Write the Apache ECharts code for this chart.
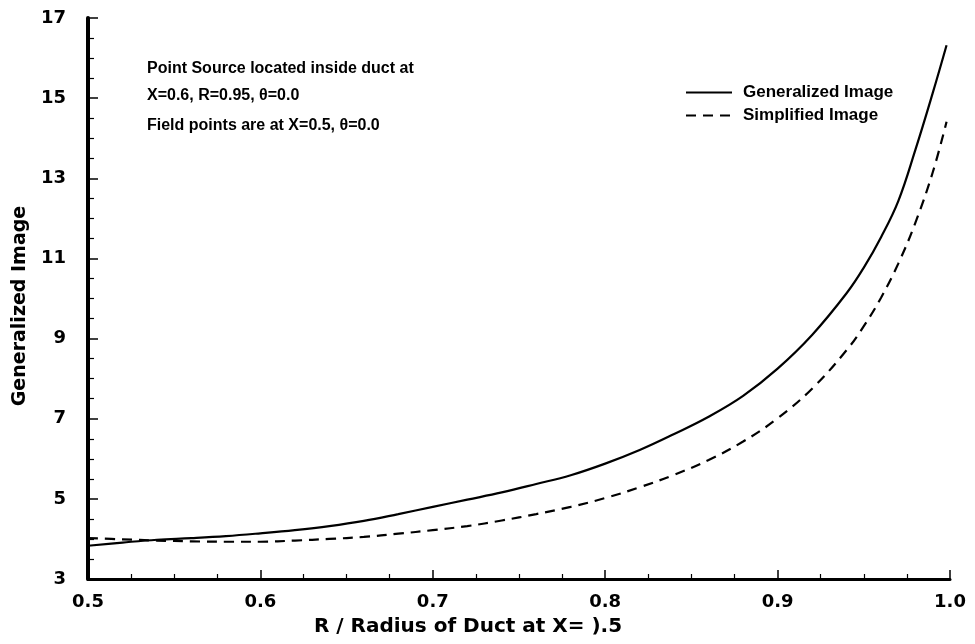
<!DOCTYPE html>
<html><head><meta charset="utf-8">
<script src="https://cdn.jsdelivr.net/npm/echarts@6/dist/echarts.min.js"></script>
<style>html,body{margin:0;padding:0;background:#fff}#c{width:975px;height:644px}</style>
</head><body><div id="c"></div>
<script>
const rValues = [0.50,0.52,0.54,0.56,0.58,0.60,0.62,0.64,0.66,0.68,0.70,0.72,0.74,0.76,0.78,0.80,0.82,0.84,0.86,0.88,0.90,0.92,0.94,0.95,0.96,0.97,0.98,0.99,0.998];
const generalizedImage = [3.83,3.91,3.98,4.02,4.07,4.14,4.22,4.32,4.45,4.62,4.80,4.98,5.16,5.37,5.59,5.88,6.22,6.62,7.05,7.57,8.25,9.09,10.13,10.77,11.53,12.43,13.72,15.13,16.32];
const simplifiedImage = [4.02,3.99,3.96,3.94,3.93,3.93,3.96,4.00,4.05,4.13,4.22,4.32,4.46,4.62,4.80,5.02,5.29,5.60,5.97,6.43,7.01,7.75,8.71,9.31,10.02,10.87,11.90,13.15,14.41];
const seriesNames = ['Generalized Image','Simplified Image'];
const xAxisTitle = 'R / Radius of Duct at X= ).5';
const yAxisTitle = 'Generalized Image';
const noteLines = ['Point Source located inside duct at','X=0.6, R=0.95, \u03b8=0.0','Field points are at X=0.5, \u03b8=0.0'];

const SANS = '"Liberation Sans", Arial, Helvetica, sans-serif';
const WIDE = '"DejaVu Sans", Verdana, sans-serif';
const chart = echarts.init(document.getElementById('c'), null, {renderer:'canvas'});
const pairs = arr => rValues.map((r,i)=>[r, arr[i]]);
chart.setOption({
  animation:false,
  backgroundColor:'#fff',
  grid:{left:88,right:25,top:18,bottom:65,outerBoundsMode:'none',containLabel:false},
  legend:{
    orient:'vertical', left:680, top:79, itemWidth:46, itemHeight:14, itemGap:6,
    data:seriesNames,
    itemStyle:{opacity:0},
    textStyle:{fontFamily:SANS,fontWeight:'bold',fontSize:17,color:'#000',padding:[0,0,0,6]}
  },
  xAxis:{
    type:'value', min:0.5, max:1.0, interval:0.1,
    name:xAxisTitle, nameLocation:'middle', nameGap:38,
    nameTextStyle:{fontFamily:WIDE,fontWeight:'bold',fontSize:20,color:'#000',padding:[0,102,0,0]},
    axisLine:{show:true,lineStyle:{color:'#000',width:3}},
    axisTick:{show:true,inside:true,length:9,lineStyle:{color:'#000',width:1.5}},
    minorTick:{show:true,splitNumber:4,length:5,lineStyle:{color:'#000',width:1.2}},
    splitLine:{show:false},
    axisLabel:{fontFamily:WIDE,fontWeight:'bold',fontSize:18,color:'#000',margin:14,
      formatter:v=>v.toFixed(1)}
  },
  yAxis:{
    type:'value', min:3, max:17, interval:2,
    name:yAxisTitle, nameLocation:'middle', nameGap:56,
    nameTextStyle:{fontFamily:WIDE,fontWeight:'bold',fontSize:19,color:'#000',padding:[0,15,0,0]},
    axisLine:{show:true,lineStyle:{color:'#000',width:4}},
    axisTick:{show:true,inside:true,length:10,lineStyle:{color:'#000',width:1.5}},
    minorTick:{show:true,splitNumber:4,length:6,lineStyle:{color:'#000',width:1.2}},
    splitLine:{show:false},
    axisLabel:{fontFamily:WIDE,fontWeight:'bold',fontSize:18,color:'#000',margin:22}
  },
  series:[
    {name:seriesNames[0],type:'line',data:pairs(generalizedImage),smooth:0.4,showSymbol:false,symbol:'none',
     lineStyle:{color:'#000',width:2.2,type:'solid'},itemStyle:{color:'#000'}},
    {name:seriesNames[1],type:'line',data:pairs(simplifiedImage),smooth:0.4,showSymbol:false,symbol:'none',
     lineStyle:{color:'#000',width:2.2,type:[10,7]},itemStyle:{color:'#000'}}
  ],
  graphic:[
    {type:'text',left:147,top:61,style:{text:noteLines[0],font:'bold 16px '+SANS,fill:'#000'}},
    {type:'text',left:147,top:88,style:{text:noteLines[1],font:'bold 16px '+SANS,fill:'#000'}},
    {type:'text',left:147,top:118,style:{text:noteLines[2],font:'bold 16px '+SANS,fill:'#000'}}
  ]
});
</script></body></html>
